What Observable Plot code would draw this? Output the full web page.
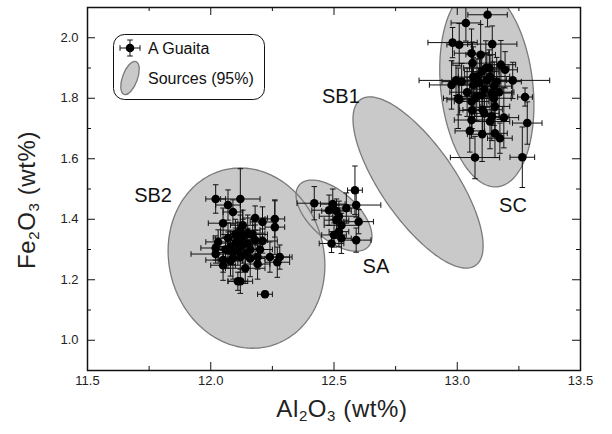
<!DOCTYPE html>
<html>
<head>
<meta charset="utf-8">
<script src="https://cdn.jsdelivr.net/npm/d3@7"></script>
<script src="https://cdn.jsdelivr.net/npm/@observablehq/plot@0.6"></script>
<style>
  html, body { margin: 0; padding: 0; background: white; }
  svg { display: block; }
</style>
</head>
<body>
<div id="chart"></div>
<script>
// ---- A Guaita samples: Al2O3 (x), Fe2O3 (y), and their errors ----
const guaitaAl = [
  12.02,12.12,12.07,12.09,12.05,12.18,12.21,12.26,12.26,12.12,12.15,12.07,12.03,12.10,12.13,12.18,12.21,12.07,12.11,12.02,
  12.05,12.09,12.19,12.24,12.28,12.27,12.05,12.19,12.14,12.11,12.12,12.22,12.10,12.13,12.08,12.16,12.14,12.12,12.06,12.17,
  12.11,12.15,12.09,12.20,12.16,12.13,12.02,12.08,
  12.585,12.42,12.495,12.55,12.59,12.51,12.52,12.51,12.60,12.50,12.52,12.49,12.53,12.59,12.53,12.48,
  13.123,13.035,12.981,13.008,13.142,13.058,13.095,13.062,13.177,13.194,13.116,13.099,13.065,13.133,12.995,13.018,12.977,13.065,13.160,13.225,
  13.275,13.004,13.079,13.140,13.008,13.072,13.058,13.149,13.103,13.153,13.058,13.133,13.189,13.284,13.051,13.101,13.153,13.173,13.072,13.264,
  13.09,13.11,13.12,13.08,13.15,13.10,13.13,13.17,13.04,13.11,13.06,13.14
];
const guaitaFe = [
  1.467,1.467,1.447,1.424,1.387,1.404,1.391,1.401,1.374,1.364,1.354,1.338,1.325,1.321,1.315,1.331,1.328,1.298,1.298,1.285,
  1.265,1.272,1.275,1.275,1.275,1.258,1.248,1.252,1.238,1.195,1.195,1.152,1.350,1.340,1.310,1.300,1.285,1.275,1.300,1.350,
  1.330,1.320,1.290,1.300,1.270,1.380,1.305,1.262,
  1.496,1.453,1.450,1.437,1.447,1.427,1.410,1.397,1.392,1.348,1.359,1.320,1.337,1.331,1.380,1.430,
  2.076,2.049,1.984,1.977,1.979,1.949,1.944,1.916,1.911,1.894,1.900,1.888,1.870,1.872,1.859,1.855,1.844,1.844,1.855,1.859,
  1.804,1.800,1.806,1.817,1.795,1.800,1.789,1.800,1.762,1.773,1.728,1.723,1.736,1.718,1.692,1.681,1.684,1.668,1.604,1.605,
  1.85,1.83,1.86,1.87,1.84,1.81,1.90,1.82,1.82,1.75,1.76,1.74
];
const guaitaAlErr = [
  0.04,0.08,0.05,0.04,0.06,0.05,0.05,0.04,0.04,0.08,0.07,0.06,0.05,0.07,0.06,0.05,0.06,0.06,0.05,0.10,
  0.07,0.06,0.06,0.08,0.05,0.05,0.05,0.05,0.08,0.04,0.05,0.03,0.06,0.05,0.07,0.05,0.06,0.07,0.05,0.06,
  0.05,0.06,0.07,0.05,0.06,0.05,0.06,0.05,
  0.03,0.07,0.05,0.05,0.10,0.06,0.08,0.05,0.06,0.05,0.04,0.05,0.04,0.06,0.07,0.07,
  0.08,0.06,0.10,0.05,0.10,0.07,0.06,0.08,0.06,0.05,0.09,0.07,0.06,0.08,0.15,0.08,0.09,0.06,0.10,0.15,
  0.03,0.06,0.07,0.08,0.05,0.06,0.07,0.07,0.08,0.06,0.07,0.08,0.06,0.06,0.06,0.06,0.05,0.05,0.10,0.05,
  0.07,0.06,0.08,0.05,0.07,0.06,0.08,0.06,0.07,0.06,0.05,0.07
];
const guaitaFeErr = [
  0.047,0.10,0.05,0.04,0.05,0.04,0.05,0.06,0.09,0.05,0.06,0.05,0.04,0.05,0.06,0.05,0.04,0.06,0.05,0.03,
  0.04,0.07,0.04,0.05,0.04,0.05,0.05,0.05,0.05,0.03,0.04,0.01,0.05,0.06,0.05,0.04,0.06,0.05,0.04,0.05,
  0.06,0.05,0.04,0.05,0.06,0.05,0.04,0.05,
  0.08,0.055,0.05,0.05,0.04,0.04,0.05,0.05,0.04,0.04,0.05,0.03,0.05,0.04,0.04,0.05,
  0.04,0.06,0.05,0.07,0.06,0.08,0.10,0.07,0.08,0.06,0.09,0.06,0.10,0.07,0.05,0.06,0.08,0.09,0.08,0.06,
  0.03,0.10,0.08,0.07,0.05,0.06,0.07,0.09,0.07,0.08,0.06,0.09,0.10,0.07,0.07,0.09,0.08,0.05,0.07,0.10,
  0.08,0.07,0.09,0.06,0.08,0.07,0.06,0.09,0.08,0.07,0.06,0.08
];

// ---- Source 95% ellipses: centre, half-extent in x and y, correlation ----
const sourceNames = ["SB2", "SA", "SB1", "SC"];
const sourceCx = [12.145, 12.500, 12.841, 13.120];
const sourceCy = [1.2715, 1.412, 1.5215, 1.836];
const sourceSx = [0.318, 0.154, 0.264, 0.191];
const sourceSy = [0.298, 0.1175, 0.283, 0.329];
const sourceR  = [-0.08, -0.58, -0.74, -0.18];

// ---- Source labels ----
const labelText = ["SB2", "SB1", "SA", "SC"];
const labelX = [11.766, 12.528, 12.670, 13.226];
const labelY = [1.477, 1.805, 1.242, 1.444];

// ---- Axis ticks ----
const xMajor = [11.5, 12.0, 12.5, 13.0, 13.5];
const xMinor = [11.75, 12.25, 12.75, 13.25];
const yMajor = [1.0, 1.2, 1.4, 1.6, 1.8, 2.0];
const yMinor = [1.1, 1.3, 1.5, 1.7, 1.9];

// build tables
const pts = guaitaAl.map((x, i) => ({x, y: guaitaFe[i], xe: guaitaAlErr[i], ye: guaitaFeErr[i]}));
const ellipse = [];
sourceNames.forEach((name, k) => {
  const n = 160, r = sourceR[k], q = Math.sqrt(1 - r * r);
  for (let j = 0; j < n; j++) {
    const t = 2 * Math.PI * j / n;
    ellipse.push({name,
      x: sourceCx[k] + sourceSx[k] * Math.cos(t),
      y: sourceCy[k] + sourceSy[k] * (r * Math.cos(t) + q * Math.sin(t))});
  }
});
const labels = labelText.map((t, i) => ({t, x: labelX[i], y: labelY[i]}));

const W = 612, H = 434, mL = 87, mR = 32, mT = 7, mB = 64;
const plotW = W - mL - mR, plotH = H - mT - mB;
const majorLen = 8, minorLen = 4;

const vcap = {draw(c, s) { const h = Math.sqrt(s / Math.PI); c.moveTo(0, -h); c.lineTo(0, h); }};
const hcap = {draw(c, s) { const h = Math.sqrt(s / Math.PI); c.moveTo(-h, 0); c.lineTo(h, 0); }};
const ink = "#111";
const fmt = d3.format(".1f");

const plot = Plot.plot({
  width: W, height: H,
  marginLeft: mL, marginRight: mR, marginTop: mT, marginBottom: mB,
  x: {domain: [11.5, 13.5]},
  y: {domain: [0.9, 2.1]},
  style: {fontFamily: "'Liberation Sans', Arial, sans-serif", fontSize: "13px", color: "#222", background: "white"},
  marks: [
    Plot.line(ellipse, {x: "x", y: "y", z: "name", curve: "linear-closed", fill: "#c9c9c9", stroke: "none", clip: true}),
    Plot.line(ellipse, {x: "x", y: "y", z: "name", curve: "linear-closed", fill: "none", stroke: "#7a7a7a", strokeWidth: 1.3, clip: true}),
    Plot.text(labels, {x: "x", y: "y", text: "t", fontSize: 20, fill: "#111"}),
    Plot.link(pts, {x1: d => d.x - d.xe, x2: d => d.x + d.xe, y1: "y", y2: "y", stroke: ink, strokeWidth: 1, clip: true}),
    Plot.link(pts, {x1: "x", x2: "x", y1: d => d.y - d.ye, y2: d => d.y + d.ye, stroke: ink, strokeWidth: 1, clip: true}),
    Plot.dot(pts, {x: d => d.x - d.xe, y: "y", symbol: vcap, r: 2.8, stroke: ink, fill: "none", strokeWidth: 1, clip: true}),
    Plot.dot(pts, {x: d => d.x + d.xe, y: "y", symbol: vcap, r: 2.8, stroke: ink, fill: "none", strokeWidth: 1, clip: true}),
    Plot.dot(pts, {x: "x", y: d => d.y - d.ye, symbol: hcap, r: 2.8, stroke: ink, fill: "none", strokeWidth: 1, clip: true}),
    Plot.dot(pts, {x: "x", y: d => d.y + d.ye, symbol: hcap, r: 2.8, stroke: ink, fill: "none", strokeWidth: 1, clip: true}),
    Plot.dot(pts, {x: "x", y: "y", r: 4.3, fill: "#000", stroke: "none", clip: true}),
    // inward ticks on all four sides
    Plot.tickX(xMajor, {x: d => d, insetTop: plotH - majorLen, stroke: ink, strokeWidth: 1}),
    Plot.tickX(xMinor, {x: d => d, insetTop: plotH - minorLen, stroke: ink, strokeWidth: 1}),
    Plot.tickX(xMajor, {x: d => d, insetBottom: plotH - majorLen, stroke: ink, strokeWidth: 1}),
    Plot.tickX(xMinor, {x: d => d, insetBottom: plotH - minorLen, stroke: ink, strokeWidth: 1}),
    Plot.tickY(yMajor, {y: d => d, insetRight: plotW - majorLen, stroke: ink, strokeWidth: 1}),
    Plot.tickY(yMinor, {y: d => d, insetRight: plotW - minorLen, stroke: ink, strokeWidth: 1}),
    Plot.tickY(yMajor, {y: d => d, insetLeft: plotW - majorLen, stroke: ink, strokeWidth: 1}),
    Plot.tickY(yMinor, {y: d => d, insetLeft: plotW - minorLen, stroke: ink, strokeWidth: 1}),
    Plot.axisX({anchor: "bottom", ticks: xMajor, tickSize: 0, tickPadding: 5, tickFormat: fmt, label: null, fontSize: 13, fill: "#222"}),
    Plot.axisY({anchor: "left", ticks: yMajor, tickSize: 0, tickPadding: 9, tickFormat: fmt, label: null, fontSize: 13, fill: "#222"}),
    Plot.frame({stroke: ink, strokeWidth: 1.5})
  ]
});

const svg = d3.select(plot);
const font = "'Liberation Sans', Arial, sans-serif";

// axis titles with subscripts
function title(sel, parts) {
  parts.forEach(([t, sub]) => {
    const ts = sel.append("tspan").text(t);
    if (sub) ts.attr("font-size", "15px").attr("baseline-shift", "-25%");
  });
}
const xt = svg.append("text").attr("x", 342).attr("y", 417).attr("text-anchor", "middle")
  .attr("font-family", font).attr("font-size", "24px").attr("fill", "#222").attr("letter-spacing", "0.6px");
title(xt, [["Al"], ["2", 1], ["O"], ["3", 1], [" (wt%)"]]);
const yt = svg.append("text").attr("transform", "translate(35,200) rotate(-90)").attr("text-anchor", "middle")
  .attr("font-family", font).attr("font-size", "24px").attr("fill", "#222").attr("letter-spacing", "0.6px");
title(yt, [["Fe"], ["2", 1], ["O"], ["3", 1], [" (wt%)"]]);

// legend
const lg = svg.append("g").attr("font-family", font).attr("font-size", "16px").attr("fill", "#111").attr("text-anchor", "start");
lg.append("rect").attr("x", 113.5).attr("y", 34.5).attr("width", 151).attr("height", 65).attr("rx", 11)
  .attr("fill", "white").attr("stroke", ink).attr("stroke-width", 1);
const sx = 130, sy = 48;
lg.append("path").attr("d", `M${sx-10},${sy}H${sx+10}M${sx},${sy-8}V${sy+8}M${sx-10},${sy-2.8}V${sy+2.8}M${sx+10},${sy-2.8}V${sy+2.8}M${sx-2.8},${sy-8}H${sx+2.8}M${sx-2.8},${sy+8}H${sx+2.8}`)
  .attr("stroke", ink).attr("fill", "none");
lg.append("circle").attr("cx", sx).attr("cy", sy).attr("r", 4.3).attr("fill", "#000");
lg.append("text").attr("x", 148).attr("y", 54).text("A Guaita");
lg.append("ellipse").attr("cx", 130).attr("cy", 78).attr("rx", 7.5).attr("ry", 17.5)
  .attr("transform", "rotate(20 130 78)").attr("fill", "#c9c9c9").attr("stroke", "#7a7a7a").attr("stroke-width", 1.3);
lg.append("text").attr("x", 148).attr("y", 84).text("Sources (95%)");

document.getElementById("chart").appendChild(plot);
</script>
</body>
</html>
